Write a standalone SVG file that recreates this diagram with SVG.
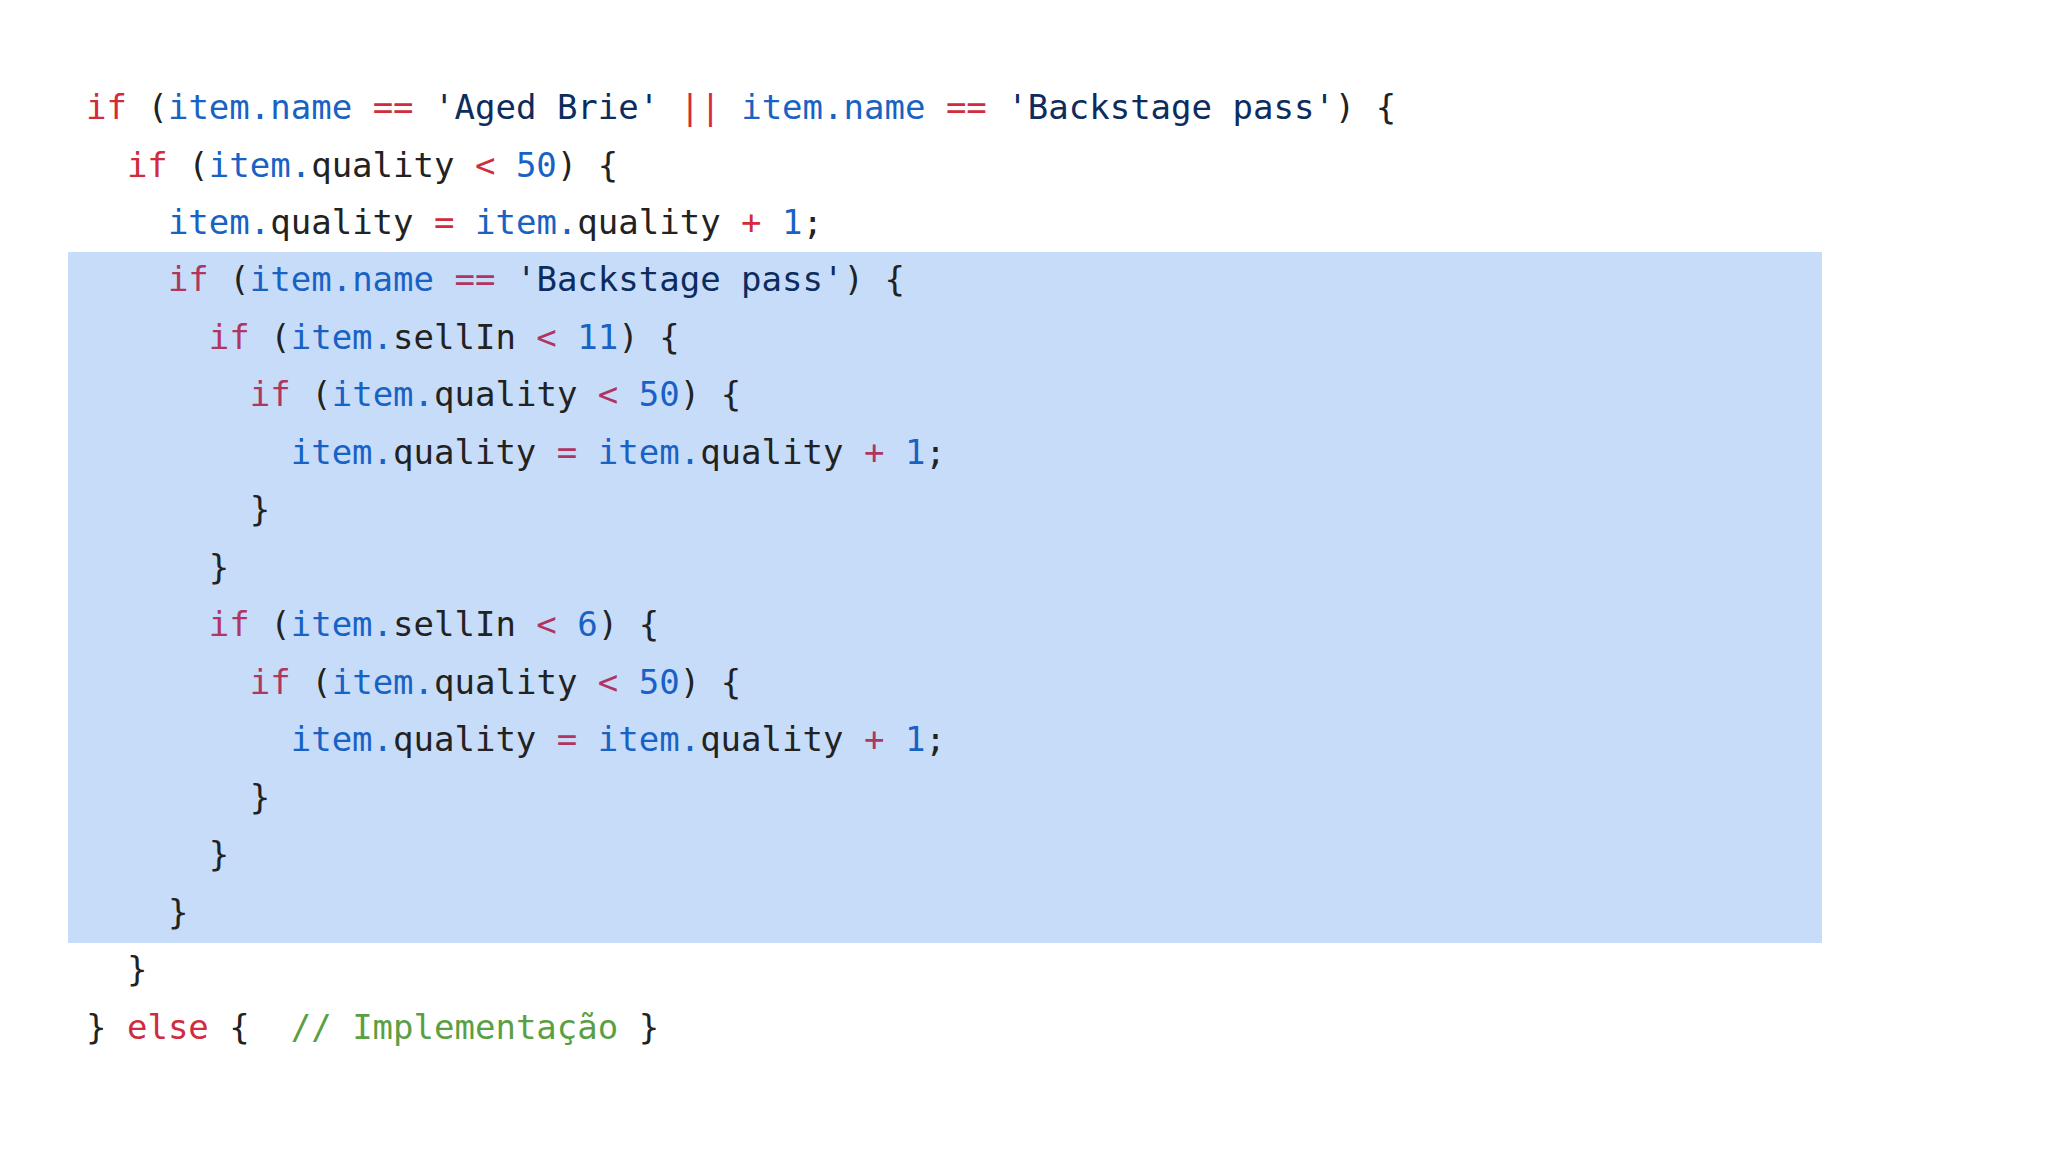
<svg xmlns="http://www.w3.org/2000/svg" width="2048" height="1152" viewBox="0 0 2048 1152">
<style>
text{font-family:"DejaVu Sans Mono","Liberation Mono",monospace;font-size:34px;fill:#222;white-space:pre}
.k{fill:#d12c3e}
.hk{fill:#b03560}
.b{fill:#1762c4}
.s{fill:#0c2c5e}
.c{fill:#5b9f45}
.p{fill:#24272c}
</style>
<rect x="0" y="0" width="2048" height="1152" fill="#ffffff"/>
<g id="highlight"><rect x="68" y="252" width="1754" height="691" fill="#c7dcf8"/></g>
<g id="code" xml:space="preserve">
<text x="86" y="119"><tspan class="k">if</tspan> (<tspan class="b">item.name</tspan> <tspan class="k">==</tspan> <tspan class="s">'Aged Brie'</tspan> <tspan class="k">||</tspan> <tspan class="b">item.name</tspan> <tspan class="k">==</tspan> <tspan class="s">'Backstage pass'</tspan>) {</text>
<text x="126.9" y="176.5"><tspan class="k">if</tspan> (<tspan class="b">item.</tspan>quality <tspan class="k">&lt;</tspan> <tspan class="b">50</tspan>) {</text>
<text x="167.9" y="234"><tspan class="b">item.</tspan>quality <tspan class="k">=</tspan> <tspan class="b">item.</tspan>quality <tspan class="k">+</tspan> <tspan class="b">1</tspan>;</text>
<text x="167.9" y="291.4"><tspan class="hk">if</tspan> (<tspan class="b">item.name</tspan> <tspan class="hk">==</tspan> <tspan class="s">'Backstage pass'</tspan>) {</text>
<text x="208.8" y="348.9"><tspan class="hk">if</tspan> (<tspan class="b">item.</tspan>sellIn <tspan class="hk">&lt;</tspan> <tspan class="b">11</tspan>) {</text>
<text x="249.8" y="406.4"><tspan class="hk">if</tspan> (<tspan class="b">item.</tspan>quality <tspan class="hk">&lt;</tspan> <tspan class="b">50</tspan>) {</text>
<text x="290.7" y="463.8"><tspan class="b">item.</tspan>quality <tspan class="hk">=</tspan> <tspan class="b">item.</tspan>quality <tspan class="hk">+</tspan> <tspan class="b">1</tspan>;</text>
<text x="249.8" y="521.3">}</text>
<text x="208.8" y="578.8">}</text>
<text x="208.8" y="636.2"><tspan class="hk">if</tspan> (<tspan class="b">item.</tspan>sellIn <tspan class="hk">&lt;</tspan> <tspan class="b">6</tspan>) {</text>
<text x="249.8" y="693.7"><tspan class="hk">if</tspan> (<tspan class="b">item.</tspan>quality <tspan class="hk">&lt;</tspan> <tspan class="b">50</tspan>) {</text>
<text x="290.7" y="751.2"><tspan class="b">item.</tspan>quality <tspan class="hk">=</tspan> <tspan class="b">item.</tspan>quality <tspan class="hk">+</tspan> <tspan class="b">1</tspan>;</text>
<text x="249.8" y="808.6">}</text>
<text x="208.8" y="866.1">}</text>
<text x="167.9" y="923.6">}</text>
<text x="126.9" y="981">}</text>
<text x="86" y="1038.5">} <tspan class="k">else</tspan> {  <tspan class="c">// Implementação</tspan> }</text>
</g>
</svg>
